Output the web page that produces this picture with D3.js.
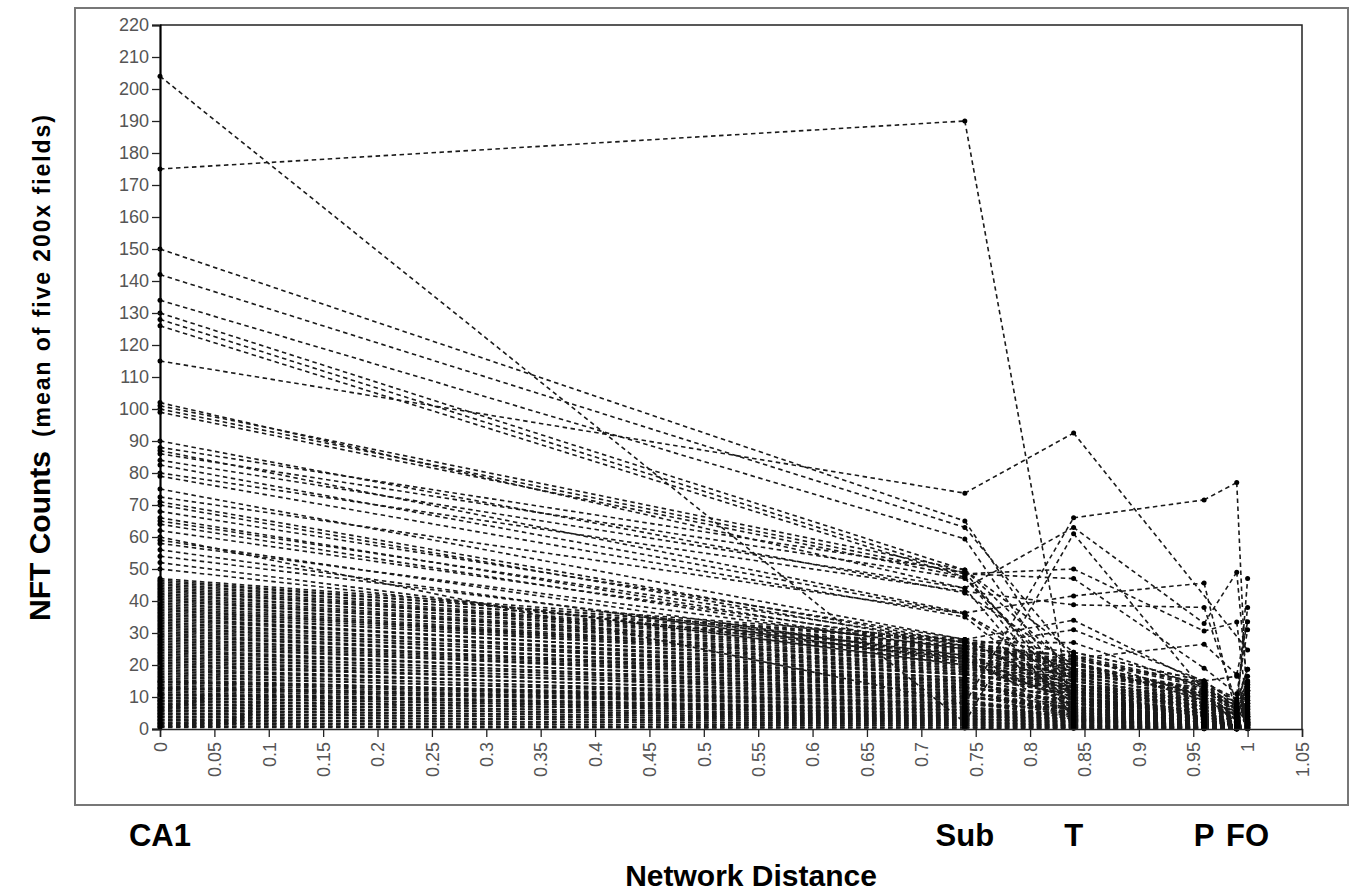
<!DOCTYPE html>
<html>
<head>
<meta charset="utf-8">
<title>NFT Counts vs Network Distance</title>
<script src="https://d3js.org/d3.v7.min.js"></script>
<style>
  body { margin: 0; background: #fff; font-family: "Liberation Sans", Arial, sans-serif; }
  .tick text { fill: #555; font-size: 18px; font-family: "Liberation Sans", Arial, sans-serif; }
  .region { font-weight: bold; font-size: 31px; }
</style>
</head>
<body>
<div id="chart"></div>
<script>
// network distance of each sampled region (one per value array below)
const distances = [0, 0.74, 0.84, 0.96, 0.99, 1.0];

// region labels under the axis
const regionNames = ["CA1", "Sub", "T", "P", "FO"];
const regionPos = [0, 0.74, 0.84, 0.96, 1.0];

const xTicks = [0, 0.05, 0.1, 0.15, 0.2, 0.25, 0.3, 0.35, 0.4, 0.45, 0.5,
  0.55, 0.6, 0.65, 0.7, 0.75, 0.8, 0.85, 0.9, 0.95, 1, 1.05];
const yTicks = [0, 10, 20, 30, 40, 50, 60, 70, 80, 90, 100, 110,
  120, 130, 140, 150, 160, 170, 180, 190, 200, 210, 220];

// NFT counts per case, same order in every array (null = region not sampled)
const ca1 = [
  204, 175, 150, 142, 134, 130, 128, 126, 115, 102,
  101, 100, 99, 90, 88, 87, 86, 84, 82.5, 80,
  79, 75, 72.5, 71, 70, 68, 66, 65, 64, 62,
  60, 59, 58, 56, 54, 52, 50,
  47, 46, 45.5, 45, 44, 43, 42.5, 42, 41, 40,
  39.5, 39, 38, 37, 36, 35.5, 35, 34, 33.5, 33,
  32, 31.5, 31, 30, 29, 28.5, 28, 27, 26, 25.5,
  25, 24, 23, 22.5, 22, 21, 20, 19.5, 19, 18,
  17, 16.5, 16, 15.5, 15, 14, 13.5, 13, 12, 11.5,
  11, 10, 9.5, 9, 8, 7.5, 7, 6, 5.5, 5,
  4, 3.5, 3, 2, 1.5, 1, 0.5,
  46.5, 44.5, 43.5, 41.5, 40.5, 38.5, 37.5, 36.5, 34.5, 32.5,
  30.5, 29.5, 27.5, 26.5, 24.5, 23.5, 21.5, 20.5, 18.5, 17.5,
  14.5, 12.5, 10.5, 8.5, 6.5, 4.5, 2.5, 14.8, 12.8, 10.8,
  9.8, 8.8, 7.8, 6.8, 5.8, 4.8, 3.8, 2.8, 1.8, 0.8
];
const sub = [
  2, 190, 65, 63, 59.4, 49.7, 48.5, 47.5, 73.7, 44,
  49.7, 48.5, 47.5, 42.5, 49, 36.3, 47, 44, 36, 43,
  35, 28, 36, 27, 26, 28, 25, 27, 24, 26,
  8, 22, 25, 21, 23, 20, 22,
  28, 27.5, 26, 27, 25, 26, 24, 25, 23, 24,
  22, 23, 21, 22, 20, 21, 19, 20, 18, 19,
  17, 18, 17, 16, 17, 15, 16, 15, 14, 15,
  13, 14, 13, 12, 13, 12, 11, 12, 10, 11,
  10, 9, 10, 8, 9, 8, 7, 8, 7, 6,
  6.5, 5, 6, 5, 4, 4.5, 3.5, 3, 3.5, 2.5,
  2, 2.5, 1.5, 1, 1.2, 0.5, 0.3,
  27, 25.5, 24.5, 23.5, 22.5, 21.5, 20.5, 21, 19.5, 18.5,
  17.5, 16, 15.5, 14.5, 13.5, 12.5, 11.5, 11, 10.5, 9.5,
  8.5, 7.5, 6, 5, 4, 3, 1.8, 7.8, 6.8, 5.8,
  5.5, 4.8, 4.2, 3.8, 3.2, 2.8, 2.2, 1.6, 1, 0.4
];
const temporal = [
  61, 3, 15, 22, 10, 24, 50, 12, 92.5, 63,
  18, 47, 6, 20, 9, 41.6, 14, 4, 17, 38.8,
  8, 34, 13, 19, 31, 11, 21, 27, 7, 16,
  66, 12, 23, 9, 14, 10, 5,
  24, 20, 23, 18, 22, 19, 21, 16, 20, 17,
  19, 15, 18, 14, 17, 13, 16, 12, 15, 11,
  14, 10, 13, 9, 12, 8, 11, 7, 10, 6,
  9, 5.5, 8.5, 5, 8, 4.5, 7.5, 4, 7, 3.5,
  6.5, 3, 6, 5.5, 5, 4.5, 4, 3.8, 3.5, 3.2,
  3, 2.8, 2.6, 2.4, 2.2, 2, 1.8, 1.6, 1.4, 1.2,
  1, 0.9, 0.8, 0.6, 0.5, 0.3, 0.2,
  22.5, 21.5, 14, 20.5, 13, 18.5, 12.5, 17.5, 11.5, 16.5,
  10.5, 15.5, 9.5, 13.5, 8, 11.5, 6.5, 9.5, 5.8, 8.2,
  5.2, 6.8, 4.2, 4.6, 3.3, 2.5, 1.3, 6.2, 3.6, 5.1,
  2.9, 4.1, 2.7, 3.4, 2.3, 2.1, 1.7, 1.1, 0.7, 0.4
];
const parietal = [
  12, 1, 8, 26.5, 5, 15, 30.6, 6, null, 33,
  11, 19, 3, 10, 4, 45.6, 9, 2, 13, 38,
  3, 14, 7, 12, 15, 5, 11, 13, 2, 8,
  71.6, 6, 10, 5, 7, 4, 3,
  15, 12, 14, 10, 13, 11, 9, 8, 12.5, 9.5,
  10.5, 7, 11, 6, 9, 6.5, 8.5, 5, 8, 5.5,
  7.5, 4.5, 7, 4, 6, 3.5, 5, 3, 4.8, 2.5,
  4.2, 2.2, 4, 2, 3.8, 2, 3.5, 1.8, 3.2, 1.5,
  3, 1.4, 2.8, 2.6, 2.4, 2.2, 2, 1.8, 1.6, 1.5,
  1.4, 1.3, 1.2, 1.1, 1, 0.9, 0.8, 0.7, 0.6, 0.5,
  0.5, 0.4, 0.4, 0.3, 0.2, 0.1, 0.1,
  13.5, 14.5, 7.5, 11.5, 6.8, 12, 6.2, 10.8, 5.2, 10,
  4.6, 9.2, 4.3, 8.2, 3.6, 7.2, 2.9, 5.8, 2.6, 4.9,
  2.3, 3.9, 2.1, 2.7, 1.7, 1.3, 0.6, 3.4, 1.9, 2.8,
  1.6, 2.4, 1.5, 1.9, 1.2, 1.1, 0.9, 0.6, 0.3, 0.2
];
const frontal = [
  6, 0.5, 3, 17, 2, 8, 33.4, 2, null, 49,
  4, 11, 1, 5, 2, 4, 3, 1, 6, 8,
  1, 7, 3, 5, 16.5, 2, 4, 6, 1, 3,
  77, 2, 4, 2, 3, 1, 1,
  8, 6, 9, 5, 7, 4, 3, 4.5, 6.5, 5,
  2, 3.5, 7.5, 2.5, 4, 3, 5.5, 1.5, 4, 2,
  3.5, 2, 3, 1.5, 2.5, 1.5, 2, 1, 2, 1,
  1.8, 1, 1.5, 0.8, 1.5, 0.8, 1.2, 0.6, 1.2, 0.5,
  1, 0.5, 1, 0.9, 0.8, 0.8, 0.7, 0.6, 0.6, 0.5,
  0.5, 0.4, 0.4, 0.4, 0.3, 0.3, 0.3, 0.2, 0.2, 0.2,
  0.2, 0.1, 0.1, 0.1, 0.1, 0, 0,
  7.2, 9.5, 3.2, 6.2, 2.8, 8.5, 2.4, 5.8, 2.2, 4.8,
  1.9, 4.2, 1.7, 3.8, 1.4, 3.4, 1.2, 2.6, 1.1, 2.1,
  0.9, 1.7, 0.9, 1.2, 0.7, 0.5, 0.2, 1.4, 0.8, 1.1,
  0.6, 1, 0.6, 0.7, 0.5, 0.4, 0.3, 0.2, 0.1, 0.1
];
const occipital = [
  8, 2, 5, 33.5, 4, 18.7, 5, 10, 24.7, 12,
  14, 31, 3, 9, 6, 47, 15, 2, 12, 38,
  4, 11, 8, 10, 13, 6, 9, 12, 3, 7,
  2, 5, 8, 4, 6, 3, 2,
  14, 12, 18.7, 10, 15, 9, 8, 11, 13, 9.5,
  7, 8.5, 12, 6, 8, 6.5, 10.5, 4, 7.5, 5,
  7, 4.5, 6, 3.5, 5.5, 3, 4.8, 2.5, 4.5, 2.2,
  4, 2, 3.8, 1.8, 3.5, 1.7, 3.2, 1.5, 3, 1.3,
  2.8, 1.2, 2.6, 2.4, 2.2, 2, 1.9, 1.8, 1.6, 1.5,
  1.4, 1.3, 1.2, 1.1, 1, 0.9, 0.8, 0.7, 0.6, 0.5,
  0.5, 0.4, 0.4, 0.3, 0.2, 0.1, 0.1,
  13.5, 16.5, 7.2, 11.8, 6.4, 14.6, 5.6, 10.2, 5.1, 9.1,
  4.3, 8.2, 3.9, 7.3, 3.3, 6.8, 2.7, 5.3, 2.4, 4.6,
  2.1, 3.7, 1.9, 2.9, 1.6, 1.1, 0.5, 3.1, 1.7, 2.6,
  1.4, 2.3, 1.3, 1.6, 1.1, 1, 0.8, 0.5, 0.3, 0.2
];

const width = 1356, height = 895;
const svg = d3.select('#chart').append('svg')
    .attr('width', width)
    .attr('height', height);

// outer grey frame
svg.append('rect')
    .attr('x', 75).attr('y', 8)
    .attr('width', 1273).attr('height', 797)
    .attr('fill', 'none')
    .attr('stroke', '#777')
    .attr('stroke-width', 2);

const x = d3.scaleLinear().domain([0, 1.05]).range([160, 1302]);
const y = d3.scaleLinear().domain([0, 220]).range([729, 25]);

// build one polyline per case, split into segments so each dash pattern restarts at a point
const regions = [ca1, sub, temporal, parietal, frontal, occipital];
const cases = ca1.map((_, i) => regions
    .map((arr, j) => ({ d: distances[j], v: arr[i] }))
    .filter(p => p.v != null));
const segments = cases.flatMap(pts => d3.pairs(pts));

svg.append('g')
    .selectAll('line')
    .data(segments)
    .join('line')
    .attr('x1', s => x(s[0].d))
    .attr('y1', s => y(s[0].v))
    .attr('x2', s => x(s[1].d))
    .attr('y2', s => y(s[1].v))
    .attr('stroke', '#1a1a1a')
    .attr('stroke-width', 1.6)
    .attr('stroke-dasharray', '4.5,3.5');

svg.append('g')
    .selectAll('circle')
    .data(cases.flat())
    .join('circle')
    .attr('cx', p => x(p.d))
    .attr('cy', p => y(p.v))
    .attr('r', 2.5)
    .attr('fill', '#000');

// top and right border of the plot
svg.append('path')
    .attr('d', `M${x(0)},${y(220)}H${x(1.05)}V${y(0)}`)
    .attr('fill', 'none')
    .attr('stroke', '#222')
    .attr('stroke-width', 1.5);

// axes
const yAxis = svg.append('g')
    .attr('transform', `translate(${x(0)},0)`)
    .call(d3.axisLeft(y).tickValues(yTicks).tickSize(8).tickPadding(3));
yAxis.select('.domain').attr('stroke', '#000').attr('stroke-width', 2.2);
yAxis.selectAll('.tick line').attr('stroke', '#222').attr('stroke-width', 1.3);

const xAxis = svg.append('g')
    .attr('transform', `translate(0,${y(0)})`)
    .call(d3.axisBottom(x).tickValues(xTicks).tickFormat(d3.format('~g')).tickSize(8).tickPadding(4));
xAxis.select('.domain').attr('stroke', '#222').attr('stroke-width', 1.5);
xAxis.selectAll('.tick line').attr('stroke', '#222').attr('stroke-width', 1.3);
xAxis.selectAll('.tick text')
    .attr('transform', 'rotate(-90)')
    .attr('text-anchor', 'end')
    .attr('x', -13)
    .attr('y', 0)
    .attr('dy', '0.35em');

// region names under the axis
svg.append('g')
    .selectAll('text')
    .data(regionNames)
    .join('text')
    .attr('class', 'region')
    .attr('x', (d, i) => x(regionPos[i]))
    .attr('y', 846)
    .attr('text-anchor', 'middle')
    .text(d => d);

svg.append('text')
    .attr('x', 751)
    .attr('y', 886)
    .attr('text-anchor', 'middle')
    .attr('font-weight', 'bold')
    .attr('font-size', 30)
    .text('Network Distance');

// y title, read bottom to top starting near y = 620
const yTitle = svg.append('text')
    .attr('transform', 'translate(50,621) rotate(-90)')
    .attr('text-anchor', 'start')
    .attr('font-weight', 'bold');
yTitle.append('tspan').attr('font-size', 30).text('NFT Counts');
yTitle.append('tspan')
    .attr('font-size', 23)
    .attr('dx', 14)
    .attr('textLength', 322)
    .attr('lengthAdjust', 'spacing')
    .text('(mean of five 200x fields)');
</script>
</body>
</html>
